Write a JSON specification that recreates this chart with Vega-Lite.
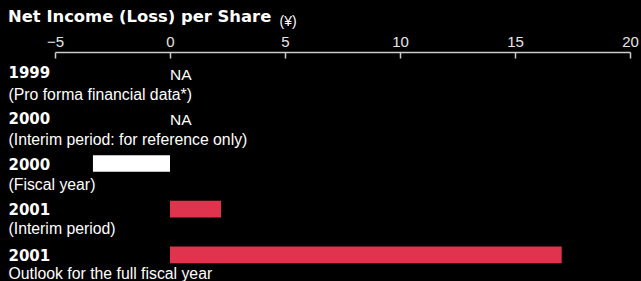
{
  "$schema": "https://vega.github.io/schema/vega-lite/v6.json",
  "width": 575,
  "height": 223,
  "autosize": {"type": "none"},
  "padding": {"left": 55, "top": 52, "right": 11, "bottom": 6},
  "background": "#000000",
  "config": {"view": {"stroke": null}, "font": "Liberation Sans"},
  "title": {
    "text": "Net Income (Loss) per Share",
    "anchor": "start",
    "frame": "bounds",
    "font": "DejaVu Sans",
    "fontSize": 16.4,
    "fontWeight": "bold",
    "color": "#ffffff",
    "baseline": "alphabetic",
    "offset": 0,
    "dy": 24
  },
  "data": {
    "values": [
      {"row": "1999|(Pro forma financial data*)", "value": null},
      {"row": "2000|(Interim period: for reference only)", "value": null},
      {"row": "2000|(Fiscal year)", "value": -3.35},
      {"row": "2001|(Interim period)", "value": 2.22},
      {"row": "2001|Outlook for the full fiscal year", "value": 17.03}
    ]
  },
  "layer": [
    {
      "mark": {"type": "bar"},
      "encoding": {
        "y": {
          "field": "row",
          "type": "nominal",
          "sort": null,
          "scale": {
            "domain": ["1999|(Pro forma financial data*)", "2000|(Interim period: for reference only)", "2000|(Fiscal year)", "2001|(Interim period)", "2001|Outlook for the full fiscal year"],
            "paddingInner": 0.634,
            "paddingOuter": 0.258
          },
          "axis": {
            "orient": "left",
            "title": null,
            "domain": false,
            "ticks": false,
            "tickSize": 0,
            "labelPadding": 47,
            "labelAlign": "left",
            "labelBaseline": "alphabetic",
            "labelOffset": 6,
            "labelFont": "DejaVu Sans",
            "labelFontWeight": "bold",
            "labelFontSize": 15,
            "labelColor": "#ffffff",
            "labelLimit": 1000,
            "labelExpr": "split(datum.label, '|')[0]"
          }
        },
        "x": {
          "field": "value",
          "type": "quantitative",
          "scale": {"domain": [-5, 20], "nice": false, "zero": true},
          "axis": {
            "orient": "top",
            "values": [-5, 0, 5, 10, 15, 20],
            "grid": false,
            "domainColor": "#cccccc",
            "domainWidth": 1.5,
            "tickColor": "#cccccc",
            "tickWidth": 1.5,
            "tickSize": -6,
            "labelPadding": 12,
            "labelBaseline": "alphabetic",
            "labelFont": "Liberation Sans",
            "labelFontSize": 15,
            "labelColor": "#e6e6e6",
            "labelFlush": false,
            "title": "(¥)",
            "titleFont": "Liberation Sans",
            "titleFontSize": 14,
            "titleFontWeight": "normal",
            "titleColor": "#ffffff",
            "titleAlign": "left",
            "titleBaseline": "alphabetic",
            "titleX": 224,
            "titleY": -27
          }
        },
        "color": {"condition": {"test": "datum.value < 0", "value": "#ffffff"}, "value": "#E0344E"}
      }
    },
    {
      "transform": [{"filter": "datum.value === null"}],
      "mark": {"type": "text", "align": "left", "baseline": "alphabetic", "dy": 6, "fontSize": 15.5, "font": "Liberation Sans", "color": "#ffffff"},
      "encoding": {
        "y": {
          "field": "row",
          "type": "nominal",
          "sort": null,
          "scale": {
            "domain": ["1999|(Pro forma financial data*)", "2000|(Interim period: for reference only)", "2000|(Fiscal year)", "2001|(Interim period)", "2001|Outlook for the full fiscal year"],
            "paddingInner": 0.634,
            "paddingOuter": 0.258
          },
          "axis": {
            "orient": "left",
            "title": null,
            "domain": false,
            "ticks": false,
            "tickSize": 0,
            "labelPadding": 47,
            "labelAlign": "left",
            "labelBaseline": "alphabetic",
            "labelOffset": 25.5,
            "labelFont": "Liberation Sans",
            "labelFontSize": 15.8,
            "labelColor": "#ffffff",
            "labelLimit": 1000,
            "labelExpr": "split(datum.label, '|')[1]"
          }
        },
        "x": {"datum": 0, "type": "quantitative"},
        "text": {"value": "NA"}
      }
    }
  ],
  "resolve": {"scale": {"y": "independent"}}
}
